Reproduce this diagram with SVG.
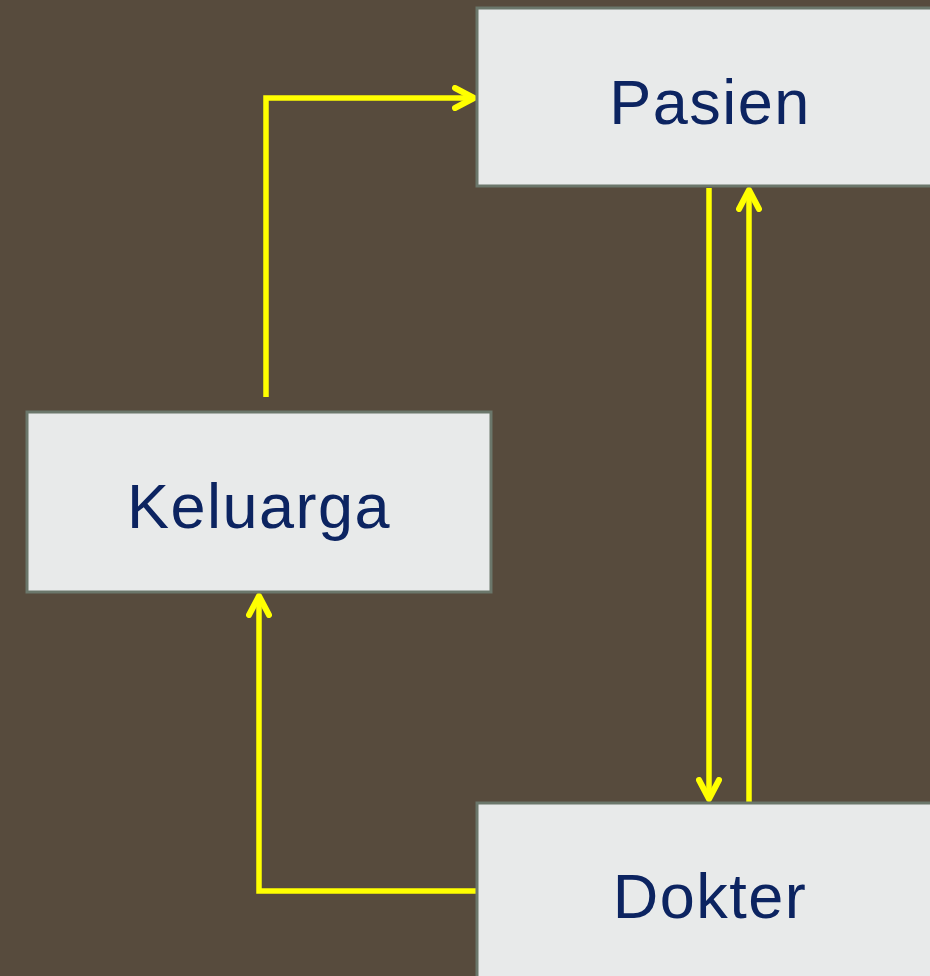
<svg xmlns="http://www.w3.org/2000/svg" width="930" height="976" viewBox="0 0 930 976">
<defs>
<style>
.box{fill:#e8eaea;stroke:#6b776b;stroke-width:3}
.lbl{font-family:"Liberation Sans",Arial,sans-serif;font-size:63px;fill:#0c2461;text-anchor:middle;letter-spacing:1.5px}
.con{fill:none;stroke:#ffff00;stroke-width:5.5;stroke-linejoin:miter}
</style>
<marker id="arr" viewBox="0 0 26 26" markerWidth="26" markerHeight="26" refX="22" refY="13" orient="auto" markerUnits="userSpaceOnUse">
<path d="M3,3 L22,13 L3,23" fill="none" stroke="#ffff00" stroke-width="6" stroke-linecap="round" stroke-linejoin="round"/>
</marker>
</defs>
<rect width="930" height="976" fill="#574b3d"/>
<g id="connectors">
<path class="con" d="M266,397 V98 H474" marker-end="url(#arr)"/>
<path class="con" d="M709,188 V799" marker-end="url(#arr)"/>
<path class="con" d="M749,802 V190" marker-end="url(#arr)"/>
<path class="con" d="M476,891 H259 V596" marker-end="url(#arr)"/>
</g>
<g id="pasien">
<rect class="box" x="477" y="8" width="460" height="178"/>
<text class="lbl" x="710" y="124">Pasien</text>
</g>
<g id="keluarga">
<rect class="box" x="27" y="412" width="464" height="180"/>
<text class="lbl" x="259" y="528">Keluarga</text>
</g>
<g id="dokter">
<rect class="box" x="477" y="803" width="460" height="190"/>
<text class="lbl" x="710" y="918">Dokter</text>
</g>
</svg>
